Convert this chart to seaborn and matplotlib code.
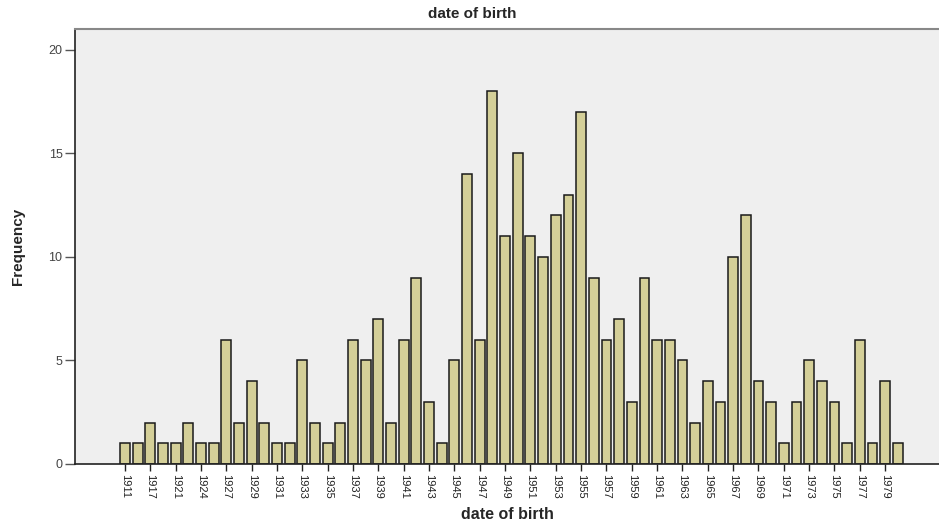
import pandas as pd
import matplotlib
matplotlib.use("Agg")
import matplotlib.pyplot as plt
import seaborn as sns

# birth years (one bar each) and their counts
years = ['1911', '1916', '1917', '1919', '1921', '1922', '1924', '1926',
         '1927', '1928', '1929', '1930', '1931', '1932', '1933', '1934',
         '1935', '1936', '1937', '1938', '1939', '1940', '1941', '1942',
         '1943', '1944', '1945', '1946', '1947', '1948', '1949', '1950',
         '1951', '1952', '1953', '1954', '1955', '1956', '1957', '1958',
         '1959', '1960', '1961', '1962', '1963', '1964', '1965', '1966',
         '1967', '1968', '1969', '1970', '1971', '1972', '1973', '1974',
         '1975', '1976', '1977', '1978', '1979', '1980']
counts = [1, 1, 2, 1, 1, 2, 1, 1,
          6, 2, 4, 2, 1, 1, 5, 2,
          1, 2, 6, 5, 7, 2, 6, 9,
          3, 1, 5, 14, 6, 18, 11, 15,
          11, 10, 12, 13, 17, 9, 6, 7,
          3, 9, 6, 6, 5, 2, 4, 3,
          10, 12, 4, 3, 1, 3, 5, 4,
          3, 1, 6, 1, 4, 1]
y_ticks = [0, 5, 10, 15, 20]

df = pd.DataFrame({'year': years, 'count': counts})

sns.set_style("white")
plt.rcParams['font.family'] = ['Liberation Sans', 'DejaVu Sans']

fig = plt.figure(figsize=(9.39, 5.26), dpi=100)
ax = fig.add_axes([75 / 939, 1 - 464 / 526, 1 - 75 / 939, (464 - 29) / 526])
ax.set_facecolor('#efefef')

sns.barplot(data=df, x='year', y='count', order=years, color='#d4cf98',
            saturation=1, edgecolor='#1a1a1a', linewidth=1.1, width=0.78, ax=ax)

ax.set_xlim(-3.95, 64.25)
ax.set_ylim(0, 21.0)

# label every other bar
idx = list(range(0, len(years), 2))
ax.set_xticks(idx)
ax.set_xticklabels([years[i] for i in idx], rotation=-90, fontsize=8, color='#222222')
ax.set_yticks(y_ticks)
ax.set_yticklabels([str(t) for t in y_ticks], fontsize=9, color='#444444')
ax.tick_params(axis='x', direction='out', length=5, width=1, color='#222222', pad=2)
ax.tick_params(axis='y', direction='out', length=7, width=1, color='#555555', pad=2)
ax.tick_params(bottom=True, left=True)

for side in ['left', 'bottom']:
    ax.spines[side].set_color('#222222')
    ax.spines[side].set_linewidth(1.2)
ax.spines['top'].set_color('#888888')
ax.spines['top'].set_linewidth(1.5)
ax.spines['right'].set_visible(False)

ax.set_xlabel('date of birth', fontsize=11.5, fontweight='bold', labelpad=6)
ax.set_ylabel('Frequency', fontsize=11, fontweight='bold', labelpad=17)
fig.text(472 / 939, 1 - 14 / 526, 'date of birth', ha='center', va='center',
         fontsize=11, fontweight='bold')

fig.savefig('out.png', dpi=100)
